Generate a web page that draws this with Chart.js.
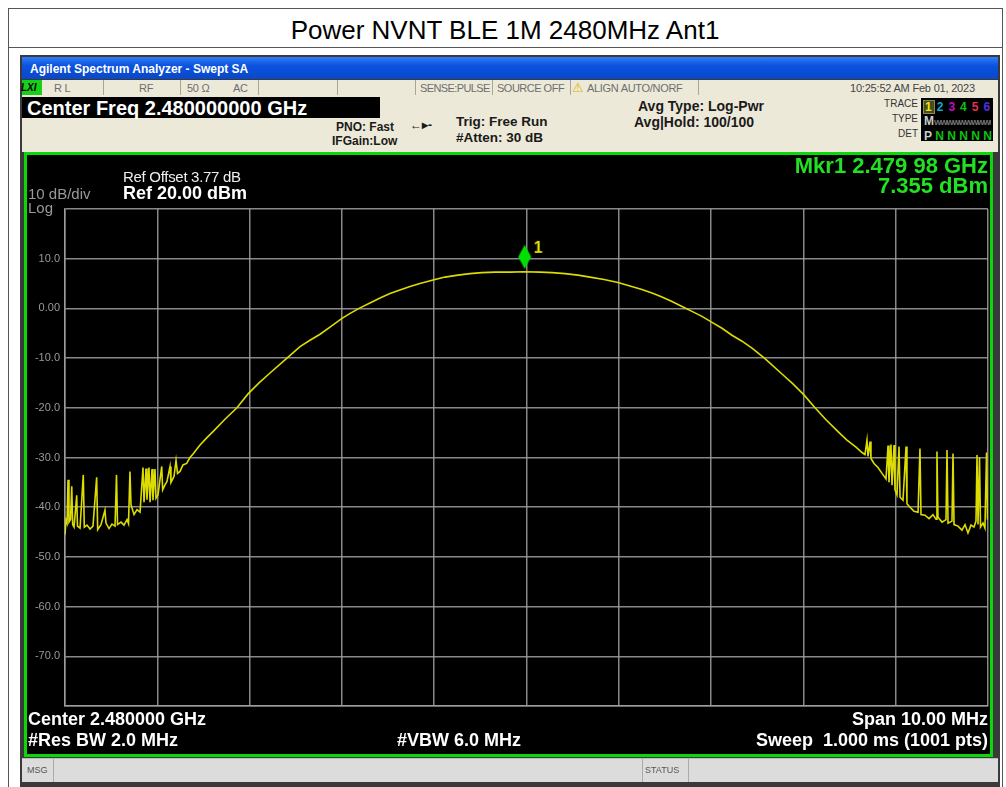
<!DOCTYPE html>
<html>
<head>
<meta charset="utf-8">
<script src="https://cdn.jsdelivr.net/npm/chart.js@4/dist/chart.umd.min.js"></script>
<style>
  html, body { margin: 0; padding: 0; background: #fff; }
  body { width: 1006px; height: 787px; position: relative; overflow: hidden; font-family: "Liberation Sans", Arial, sans-serif; }
  .abs { position: absolute; white-space: nowrap; line-height: 1; }
  #frame { position: absolute; left: 8px; top: 8px; width: 995px; height: 790px; border: 1px solid #555; box-sizing: border-box; }
  #titleLine { position: absolute; left: 8px; top: 47px; width: 995px; height: 1px; background: #555; }
  #shot { position: absolute; left: 20px; top: 55px; width: 980px; height: 732px; background: #3a3a3a; }
  #bar { position: absolute; left: 22px; top: 57px; width: 976px; height: 22px; background: linear-gradient(#2f7ef5, #0b52de 40%, #0a48c8); }
  #status { position: absolute; left: 22px; top: 80px; width: 976px; height: 16px; background: #ece9d8; }
  .cell { position: absolute; top: 0; height: 15px; border-right: 1px solid #a9a694; }
  #row2 { position: absolute; left: 22px; top: 96px; width: 976px; height: 56px; background: #ece9d8; }
  #green { position: absolute; left: 24px; top: 152px; width: 969px; height: 605px; border: 3px solid #0bd80b; box-sizing: border-box; background: #000; }
  #msg { position: absolute; left: 22px; top: 758px; width: 976px; height: 24px; background: #dcdcdc; border-top: 1px solid #bbb; box-sizing: border-box; }
  canvas#chart { position: absolute; left: 27px; top: 155px; }
  .wb { color: #fff; font-weight: bold; }
  .gr { color: #22e022; font-weight: bold; }
  .dk { color: #1a1a1a; font-weight: bold; }
  .st { color: #6e6e6e; font-size: 11px; letter-spacing: -0.3px; }
</style>
</head>
<body>
<div id="frame"></div>
<div id="titleLine"></div>
<div class="abs" style="left:0;width:1010px;text-align:center;top:17px;font-size:26px;color:#000;">Power NVNT BLE 1M 2480MHz Ant1</div>

<div id="shot"></div>
<div id="bar"></div>
<div class="abs" style="left:30px;top:63px;font-size:12px;font-weight:bold;color:#fff;">Agilent Spectrum Analyzer - Swept SA</div>

<div id="status">
  <div class="cell" style="left:0;width:20px;background:#18d018;border:none;"></div>
  <div class="cell" style="left:20px;width:61px;"></div>
  <div class="cell" style="left:82px;width:76px;"></div>
  <div class="cell" style="left:159px;width:77px;"></div>
  <div class="cell" style="left:237px;width:78px;"></div>
  <div class="cell" style="left:316px;width:77px;"></div>
  <div class="cell" style="left:394px;width:76px;"></div>
  <div class="cell" style="left:471px;width:77px;"></div>
  <div class="cell" style="left:549px;width:127px;"></div>
</div>
<div class="abs" style="left:21px;top:83px;font-size:10px;font-weight:bold;font-style:italic;color:#000;">LXI</div>
<div class="abs st" style="left:54px;top:83px;">R L</div>
<div class="abs st" style="left:139px;top:83px;">RF</div>
<div class="abs st" style="left:187px;top:83px;">50 Ω</div>
<div class="abs st" style="left:233px;top:83px;">AC</div>
<div class="abs st" style="left:420px;top:83px;letter-spacing:-0.6px;">SENSE:PULSE</div>
<div class="abs st" style="left:497px;top:83px;letter-spacing:-0.5px;">SOURCE OFF</div>
<div class="abs" style="left:572px;top:81px;font-size:13px;color:#d8b800;">⚠</div>
<div class="abs st" style="left:587px;top:83px;">ALIGN AUTO/NORF</div>
<div class="abs st" style="left:850px;top:83px;letter-spacing:-0.2px;color:#444;">10:25:52 AM Feb 01, 2023</div>

<div id="row2"></div>
<div class="abs" style="left:22px;top:97px;width:358px;height:21px;background:#000;"></div>
<div class="abs wb" style="left:27px;top:98px;font-size:20px;">Center Freq 2.480000000 GHz</div>
<div class="abs dk" style="left:336px;top:121px;font-size:12px;">PNO: Fast</div>
<div class="abs dk" style="left:332px;top:135px;font-size:12px;">IFGain:Low</div>
<div class="abs dk" style="left:410px;top:119px;font-size:12px;">←▸‐</div>
<div class="abs dk" style="left:456px;top:115px;font-size:13.5px;">Trig: Free Run</div>
<div class="abs dk" style="left:456px;top:131px;font-size:13.5px;">#Atten: 30 dB</div>
<div class="abs dk" style="left:638px;top:99px;font-size:14px;">Avg Type: Log-Pwr</div>
<div class="abs dk" style="left:634px;top:115px;font-size:14px;">Avg|Hold: 100/100</div>
<div class="abs" style="left:858px;top:99px;width:60px;text-align:right;font-size:10px;color:#333;">TRACE</div>
<div class="abs" style="left:858px;top:114px;width:60px;text-align:right;font-size:10px;color:#333;">TYPE</div>
<div class="abs" style="left:858px;top:129px;width:60px;text-align:right;font-size:10px;color:#333;">DET</div>
<div class="abs" style="left:921px;top:98px;width:72px;height:43px;background:#000;"></div>
<div class="abs" style="left:923px;top:100px;width:10px;height:12px;background:#4a4a20;border:1px solid #8a8a50;"></div>
<div class="abs" style="left:925px;top:101px;font-size:12px;font-weight:bold;letter-spacing:5px;"><span style="color:#e8e800">1</span><span style="color:#10a8c8">2</span><span style="color:#c010c0">3</span><span style="color:#10c010">4</span><span style="color:#e03050">5</span><span style="color:#5030e0">6</span></div>
<div class="abs" style="left:924px;top:115px;width:67px;overflow:hidden;font-size:12px;font-weight:bold;color:#ccc;">M<span style="color:#777;font-size:8px;letter-spacing:-1.4px;">WWWWWWWWWWWW</span></div>
<div class="abs" style="left:924px;top:130px;font-size:12px;font-weight:bold;color:#ccc;letter-spacing:3.3px;">P<span style="color:#10c010">NNNNN</span></div>

<div id="green"></div>
<canvas id="chart" width="963" height="599"></canvas>
<div class="abs" style="left:123px;top:169px;font-size:15px;color:#eee;letter-spacing:-0.3px;">Ref Offset 3.77 dB</div>
<div class="abs wb" style="left:123px;top:184px;font-size:18px;">Ref 20.00 dBm</div>
<div class="abs" style="left:28px;top:186px;font-size:15px;color:#999;">10 dB/div</div>
<div class="abs" style="left:28px;top:200px;font-size:15px;color:#999;">Log</div>
<div class="abs gr" style="left:600px;width:388px;text-align:right;top:155px;font-size:22px;">Mkr1 2.479 98 GHz</div>
<div class="abs gr" style="left:600px;width:388px;text-align:right;top:175px;font-size:22px;">7.355 dBm</div>
<div class="abs wb" style="left:28px;top:710px;font-size:18px;">Center 2.480000 GHz</div>
<div class="abs wb" style="left:28px;top:731px;font-size:18px;">#Res BW 2.0 MHz</div>
<div class="abs wb" style="left:397px;top:731px;font-size:18px;">#VBW 6.0 MHz</div>
<div class="abs wb" style="left:600px;width:388px;text-align:right;top:710px;font-size:18px;">Span 10.00 MHz</div>
<div class="abs wb" style="left:600px;width:388px;text-align:right;top:731px;font-size:18px;">Sweep&nbsp; 1.000 ms (1001 pts)</div>

<div id="msg">
  <div class="cell" style="left:0;width:31px;height:23px;border-right:1px solid #aaa;"></div>
  <div class="cell" style="left:620px;width:45px;height:23px;border-left:1px solid #aaa;border-right:1px solid #aaa;"></div>
</div>
<div class="abs" style="left:27px;top:766px;font-size:9px;color:#555;">MSG</div>
<div class="abs" style="left:645px;top:766px;font-size:9px;color:#555;">STATUS</div>

<script>
// trace 1 (MHz / dBm)
const freqMHz = [
  2475.000, 2475.011, 2475.022, 2475.033, 2475.043, 2475.060, 2475.073, 2475.083, 2475.098, 2475.127,
  2475.135, 2475.163, 2475.198, 2475.209, 2475.238, 2475.271, 2475.303, 2475.343, 2475.354, 2475.390,
  2475.433, 2475.444, 2475.477, 2475.509, 2475.542, 2475.558, 2475.569, 2475.607, 2475.639, 2475.672,
  2475.688, 2475.704, 2475.715, 2475.748, 2475.780, 2475.813, 2475.845, 2475.856, 2475.878, 2475.888,
  2475.910, 2475.921, 2475.943, 2475.953, 2475.975, 2475.986, 2476.008, 2476.048, 2476.058, 2476.083,
  2476.105, 2476.138, 2476.148, 2476.181, 2476.203, 2476.219, 2476.246, 2476.278, 2476.318, 2476.354,
  2476.387, 2476.463, 2476.538, 2476.614, 2476.733, 2476.863, 2476.983, 2477.102, 2477.221, 2477.405,
  2477.546, 2477.654, 2477.763, 2477.882, 2478.001, 2478.099, 2478.196, 2478.304, 2478.413, 2478.521,
  2478.629, 2478.738, 2478.846, 2478.987, 2479.117, 2479.258, 2479.388, 2479.518, 2479.659, 2479.821,
  2479.980, 2480.146, 2480.276, 2480.417, 2480.558, 2480.688, 2480.840, 2480.991, 2481.121, 2481.251,
  2481.360, 2481.468, 2481.576, 2481.685, 2481.793, 2481.901, 2482.010, 2482.118, 2482.226, 2482.335,
  2482.443, 2482.584, 2482.768, 2482.887, 2483.006, 2483.126, 2483.245, 2483.375, 2483.472, 2483.570,
  2483.635, 2483.667, 2483.689, 2483.700, 2483.722, 2483.732, 2483.765, 2483.808, 2483.852, 2483.895,
  2483.917, 2483.927, 2483.949, 2483.960, 2483.982, 2483.992, 2484.014, 2484.036, 2484.047, 2484.079,
  2484.112, 2484.122, 2484.155, 2484.198, 2484.242, 2484.263, 2484.274, 2484.317, 2484.361, 2484.404,
  2484.437, 2484.447, 2484.458, 2484.502, 2484.545, 2484.556, 2484.567, 2484.610, 2484.621, 2484.632,
  2484.675, 2484.718, 2484.751, 2484.783, 2484.816, 2484.848, 2484.870, 2484.881, 2484.892, 2484.908,
  2484.919, 2484.946, 2484.967, 2484.984, 2484.995, 2485.000
];
const levelDbm = [
  -45.5, -42.6, -43.2, -34.5, -43.0, -42.5, -35.8, -43.5, -44.0, -37.6,
  -43.8, -44.2, -33.5, -44.0, -43.6, -44.4, -43.8, -34.0, -44.5, -43.5,
  -40.6, -43.2, -44.3, -43.4, -43.8, -33.5, -43.5, -43.0, -43.6, -42.5,
  -43.3, -32.8, -39.5, -41.5, -40.5, -41.0, -32.0, -39.0, -32.2, -38.5,
  -32.0, -39.0, -32.3, -38.6, -32.3, -38.2, -37.5, -31.8, -36.5, -35.5,
  -34.8, -31.8, -35.0, -33.8, -30.6, -33.2, -32.8, -31.5, -31.2, -30.0,
  -29.3, -27.5, -26.0, -24.6, -22.3, -20.0, -17.2, -15.0, -13.0, -10.0,
  -7.7, -6.4, -5.2, -3.6, -2.0, -0.9, 0.1, 1.1, 2.1, 3.0,
  3.7, 4.4, 5.0, 5.7, 6.3, 6.7, 7.0, 7.2, 7.3, 7.3,
  7.36, 7.3, 7.2, 7.0, 6.7, 6.3, 5.8, 5.2, 4.5, 3.8,
  3.1, 2.3, 1.4, 0.4, -0.6, -1.6, -2.8, -4.0, -5.4, -6.6,
  -8.0, -10.1, -13.2, -15.2, -17.4, -20.0, -22.4, -24.8, -26.5, -27.9,
  -29.0, -29.4, -26.5, -29.8, -26.8, -30.2, -31.2, -32.0, -33.2, -34.3,
  -27.6, -35.0, -27.4, -35.6, -27.5, -36.5, -37.5, -27.8, -38.0, -38.6,
  -27.8, -39.3, -40.0, -40.8, -41.0, -28.2, -41.5, -41.6, -42.3, -41.5,
  -42.4, -28.8, -42.0, -43.0, -42.5, -28.5, -43.2, -42.8, -29.2, -43.5,
  -43.8, -44.6, -43.5, -45.2, -43.6, -44.0, -42.8, -29.5, -43.5, -30.0,
  -44.0, -43.2, -44.2, -29.0, -42.5, -41.8
];

const markerFreq = 2479.98;
const markerLevel = 7.355;

const yTickValues = [20, 10, 0, -10, -20, -30, -40, -50, -60, -70, -80];
const yTickLabels = ["", "10.0", "0.00", "-10.0", "-20.0", "-30.0", "-40.0", "-50.0", "-60.0", "-70.0", ""];

const trace = freqMHz.map((f, i) => ({ x: f, y: levelDbm[i] }));

// marker 1: green diamond sitting on the trace, with its number
const mk = document.createElement("canvas");
mk.width = 40; mk.height = 72;
const g = mk.getContext("2d");
g.fillStyle = "#00e000";
g.beginPath();
g.moveTo(20, 9); g.lineTo(26.5, 21); g.lineTo(20, 33); g.lineTo(13.5, 21);
g.closePath(); g.fill();
g.fillStyle = "#e6e600";
g.font = "bold 16px 'Liberation Sans', Arial";
g.fillText("1", 29, 17);

const gridCol = "rgba(160,160,160,0.85)";

new Chart(document.getElementById("chart").getContext("2d"), {
  type: "line",
  data: {
    datasets: [
      { data: trace, borderColor: "#dcdc00", borderWidth: 1.6, pointRadius: 0, tension: 0, fill: false },
      { data: [{ x: markerFreq, y: markerLevel }], showLine: false, pointStyle: mk, pointRadius: 10, clip: false }
    ]
  },
  options: {
    responsive: false,
    animation: false,
    layout: { autoPadding: false, padding: { top: 54, right: 2, bottom: 0, left: 0 } },
    plugins: { legend: { display: false }, tooltip: { enabled: false } },
    scales: {
      x: {
        type: "linear", min: 2475, max: 2485,
        ticks: { stepSize: 1, display: false },
        grid: { color: gridCol, lineWidth: 1.5, drawTicks: false },
        border: { color: gridCol, width: 1.5 },
        afterFit: (s) => { s.height = 48; }
      },
      y: {
        min: -80, max: 20,
        afterBuildTicks: (s) => { s.ticks = yTickValues.map(v => ({ value: v })); },
        ticks: {
          color: "#9a9a9a", padding: 5,
          font: { family: "'Liberation Sans', Arial", size: 11 },
          callback: (v) => yTickLabels[yTickValues.indexOf(v)]
        },
        grid: { color: gridCol, lineWidth: 1.5, drawTicks: false },
        border: { color: gridCol, width: 1.5 },
        afterFit: (s) => { s.width = 38; }
      }
    }
  }
});
</script>
</body>
</html>
